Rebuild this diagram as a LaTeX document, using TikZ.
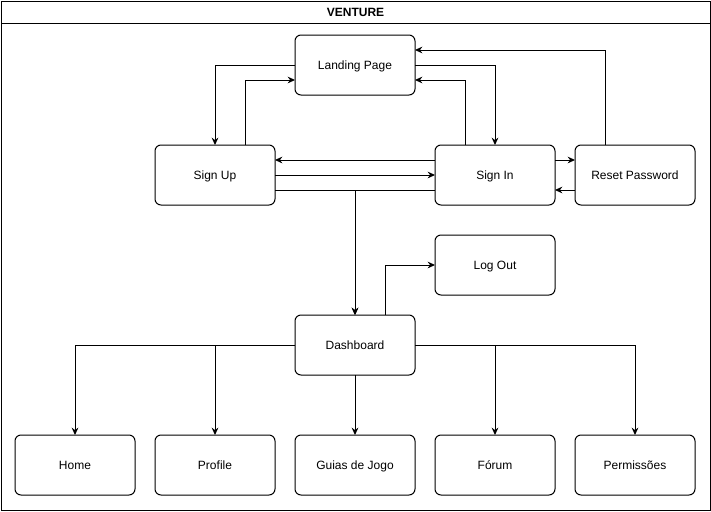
\documentclass[tikz,border=0pt]{standalone}
\usepackage{fontspec}
\setmainfont{Liberation Sans}
\usepackage{tikz}
\usetikzlibrary{positioning,arrows.meta}

\begin{document}
\begin{tikzpicture}[
	x=0.75pt, y=-0.75pt, line width=0.75pt, >={Stealth[length=5.5pt,width=5pt]},
	pagebox/.style={rectangle, draw=black, fill=white, rounded corners=4.5pt, minimum width=90pt, minimum height=45pt, inner sep=0pt, outer sep=0pt, text height=6.45pt, text depth=0pt, font=\fontsize{9}{11}\selectfont},
	titletext/.style={text height=6.45pt, text depth=0pt, font=\fontsize{9}{11}\selectfont\bfseries},
	]
	\useasboundingbox (0,0) rectangle (711,511);
	%Frame
	\draw (1,1) rectangle (710,510);
	\draw (1,23) -- (710,23);
	\node[titletext](title) at (355.5,12.5){VENTURE};

	%Nodes
	\node[pagebox](landing) at (355,65){Landing Page};
	\node[pagebox](signup) at (215,175){Sign Up};
	\node[pagebox](signin)[right=120pt of signup]{Sign In};
	\node[pagebox](reset)[right=15pt of signin]{Reset Password};
	\node[pagebox](logout)[below=22.5pt of signin]{Log Out};
	\node[pagebox](dash) at (355,345){Dashboard};

	\node[pagebox](guias)[below=45pt of dash]{Guias de Jogo};
	\node[pagebox](profile)[left=15pt of guias]{Profile};
	\node[pagebox](home)[left=15pt of profile]{Home};
	\node[pagebox](forum)[right=15pt of guias]{Fórum};
	\node[pagebox](perm)[right=15pt of forum]{Permissões};

	%Lines
	\draw[->] (landing.west) -| (signup.north);
	\draw[->] ([xshift=22.5pt]signup.north) |- ([yshift=-11.25pt]landing.west);
	\draw[->] (landing.east) -| (signin.north);
	\draw[->] ([xshift=-22.5pt]signin.north) |- ([yshift=-11.25pt]landing.east);
	\draw[->] ([xshift=-22.5pt]reset.north) |- ([yshift=11.25pt]landing.east);
	\draw[->] ([yshift=11.25pt]signin.west) -- ([yshift=11.25pt]signup.east);
	\draw[->] (signup.east) -- (signin.west);
	\draw[->] ([yshift=11.25pt]signin.east) -- ([yshift=11.25pt]reset.west);
	\draw[->] ([yshift=-11.25pt]reset.west) -- ([yshift=-11.25pt]signin.east);
	\draw[->] ([yshift=-11.25pt]signup.east) -| (dash.north);
	\draw[->] ([yshift=-11.25pt]signin.west) -| (dash.north);
	\draw[->] ([xshift=22.5pt]dash.north) |- (logout.west);
	\draw[->] (dash.west) -| (home.north);
	\draw[->] (dash.west) -| (profile.north);
	\draw[->] (dash.south) -- (guias.north);
	\draw[->] (dash.east) -| (forum.north);
	\draw[->] (dash.east) -| (perm.north);

\end{tikzpicture}
\end{document}
